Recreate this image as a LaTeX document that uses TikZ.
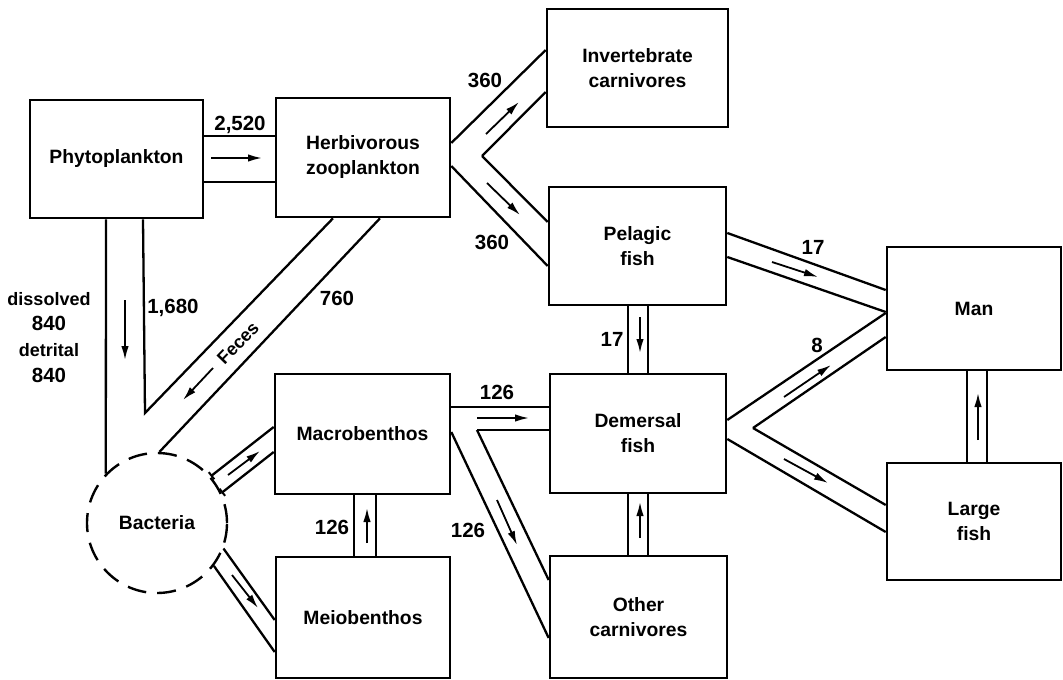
\documentclass[tikz,border=0pt]{standalone}
\usepackage{fontspec}
\setmainfont{Liberation Sans}
\usetikzlibrary{arrows.meta}
\begin{document}
\begin{tikzpicture}[x=1pt,y=-1pt,
  box/.style={draw,line width=2.6pt,rectangle,inner sep=0pt,align=center,
    font=\fontsize{19.3}{25}\selectfont\bfseries},
  chan/.style={line width=2.3pt},
  flow/.style={line width=1.8pt,-{Latex[length=14pt,width=7.5pt]}},
  lbl/.style={font=\fontsize{18}{22}\selectfont\bfseries,inner sep=0pt},
  num/.style={font=\fontsize{20.5}{22}\selectfont\bfseries,inner sep=0pt}]
\useasboundingbox (0,0) rectangle (1063,680);
% boxes
\node[box,minimum width=173pt,minimum height=118pt] (phyto) at (116.5,159) {Phytoplankton};
\node[box,minimum width=174pt,minimum height=119pt] (herb) at (363,157.5) {Herbivorous\\zooplankton};
\node[box,minimum width=181pt,minimum height=118pt] (invert) at (637.5,68) {Invertebrate\\carnivores};
\node[box,minimum width=177pt,minimum height=118pt] (pelagic) at (637.5,246) {Pelagic\\fish};
\node[box,minimum width=175pt,minimum height=120pt] (macro) at (362.5,434) {Macrobenthos};
\node[box,minimum width=174pt,minimum height=121pt] (meio) at (363,617.5) {Meiobenthos};
\node[box,minimum width=176pt,minimum height=119pt] (demersal) at (638,433.5) {Demersal\\fish};
\node[box,minimum width=177pt,minimum height=122pt] (other) at (638.5,617) {Other\\carnivores};
\node[box,minimum width=174pt,minimum height=123pt] (man) at (974,308.5) {Man};
\node[box,minimum width=174pt,minimum height=117pt] (large) at (974,521.5) {Large\\fish};
\node[circle,draw,line width=2.4pt,dash pattern=on 19pt off 11pt,minimum size=140pt,inner sep=0pt,
  font=\fontsize{19.3}{25}\selectfont\bfseries] (bact) at (157,523) {Bacteria};
% vertices
\coordinate (v1) at (482,156);
\coordinate (v2) at (145,413);
\coordinate (v3) at (477,430);
\coordinate (v4) at (753,428);
% channels
\draw[chan] (phyto.east |- 0,136) -- (herb.west |- 0,136);
\draw[chan] (phyto.east |- 0,182) -- (herb.west |- 0,182);
\draw[chan] (herb.east |- 0,143) -- (invert.west |- 0,50);
\draw[chan] (v1) -- (invert.west |- 0,92);
\draw[chan] (v1) -- (pelagic.west |- 0,222);
\draw[chan] (herb.east |- 0,166) -- (pelagic.west |- 0,266);
\draw[chan] (106,0 |- phyto.south) -- (bact.136);
\draw[chan] (143,0 |- phyto.south) -- (v2) -- (333,0 |- herb.south);
\draw[chan] (380,0 |- herb.south) -- (bact.88);
\draw[chan,{Bar[width=9pt,line width=2pt]}-] (bact.41) -- (macro.west |- 0,427);
\draw[chan,{Bar[width=9pt,line width=2pt]}-] (bact.25) -- (macro.west |- 0,452);
\draw[chan] (bact.-21) -- (meio.west |- 0,620);
\draw[chan] (bact.-37) -- (meio.west |- 0,652);
\draw[chan] (354,0 |- meio.north) -- (354,0 |- macro.south);
\draw[chan] (376,0 |- meio.north) -- (376,0 |- macro.south);
\draw[chan] (macro.east |- 0,407) -- (demersal.west |- 0,407);
\draw[chan] (v3) -- (demersal.west |- 0,430);
\draw[chan] (v3) -- (other.west |- 0,580);
\draw[chan] (macro.east |- 0,432) -- (other.west |- 0,638);
\draw[chan] (628,0 |- pelagic.south) -- (628,0 |- demersal.north);
\draw[chan] (648,0 |- pelagic.south) -- (648,0 |- demersal.north);
\draw[chan] (628,0 |- other.north) -- (628,0 |- demersal.south);
\draw[chan] (648,0 |- other.north) -- (648,0 |- demersal.south);
\draw[chan] (pelagic.east |- 0,233) -- (man.west |- 0,290);
\draw[chan] (pelagic.east |- 0,257) -- (man.west |- 0,312);
\draw[chan] (demersal.east |- 0,420) -- (man.west |- 0,313);
\draw[chan] (v4) -- (man.west |- 0,337);
\draw[chan] (v4) -- (large.west |- 0,505);
\draw[chan] (demersal.east |- 0,439) -- (large.west |- 0,532);
\draw[chan] (967,0 |- large.north) -- (967,0 |- man.south);
\draw[chan] (987,0 |- large.north) -- (987,0 |- man.south);
% flow arrows
\draw[flow] (211,158) -- (262,158);
\draw[flow] (486,134) -- (519,102);
\draw[flow] (487,183) -- (520,215);
\draw[flow] (125,300) -- (125,360);
\draw[flow] (213,368) -- (183,400);
\draw[flow] (228,475) -- (260,451);
\draw[flow] (232,575) -- (258,608);
\draw[flow] (367,543) -- (367,508);
\draw[flow] (477,418) -- (529,418);
\draw[flow] (497,500) -- (517,545);
\draw[flow] (640,317) -- (640,353);
\draw[flow] (640,538) -- (640,502);
\draw[flow] (772,262) -- (818,277);
\draw[flow] (784,397) -- (831,365);
\draw[flow] (784,459) -- (828,483);
\draw[flow] (978,440) -- (978,393);
% labels
\node[num] (l2520) at (240,125) {2,520};
\node[num] (l360a) at (485,80) {360};
\node[num] (l360b) at (492,242) {360};
\node[num] (l1680) at (173,308) {1,680};
\node[num] (l760) at (337,298) {760};
\node[lbl] (ldis) at (49,299) {dissolved};
\node[num] (ldis8) at (49,323) {840};
\node[lbl] (ldet) at (49,350) {detrital};
\node[num] (ldet8) at (49,375) {840};
\node[lbl,rotate=46] (lfec) at (238,343) {Feces};
\node[num] (l126a) at (497,392) {126};
\node[num] (l126b) at (468,530) {126};
\node[num] (l126c) at (332,527) {126};
\node[num] (l17a) at (612,339) {17};
\node[num] (l17b) at (813,247) {17};
\node[num] (l8) at (817,345) {8};
\end{tikzpicture}
\end{document}
